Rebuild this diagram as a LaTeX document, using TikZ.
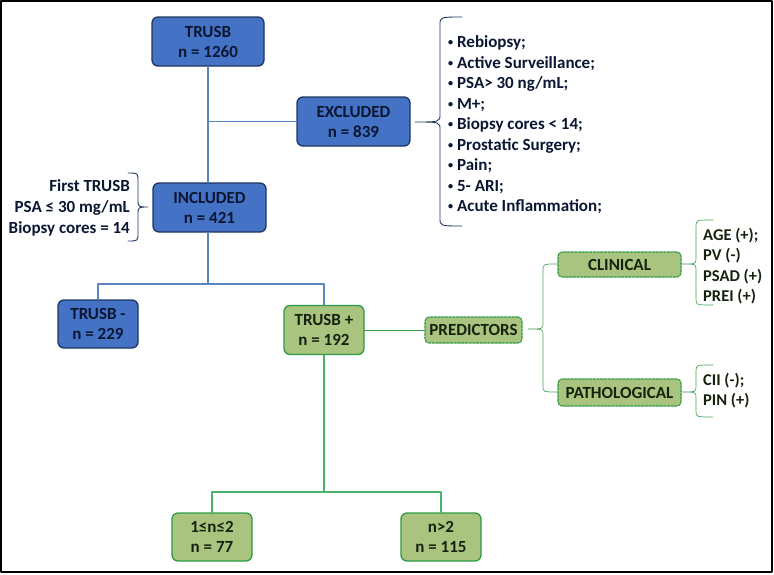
\documentclass[tikz,border=0pt]{standalone}
\usepackage{fontspec}
\setmainfont{Carlito}
\definecolor{boxblue}{HTML}{4472C4}
\definecolor{edgeblue}{HTML}{1F3560}
\definecolor{textblue}{HTML}{0B1633}
\definecolor{lineblue}{HTML}{5B84C4}
\definecolor{boxgreen}{HTML}{A9C47F}
\definecolor{edgegreen}{HTML}{2F9A45}
\definecolor{textgreen}{HTML}{17220E}
\definecolor{linegreen}{HTML}{4DB36A}
\newcommand{\itemdot}{\raisebox{0.12em}{\scalebox{0.6}{•}}\ }
\begin{document}
\begin{tikzpicture}[x=1pt,y=-1pt, font=\bfseries, line join=round, line cap=round]
	\tikzset{bluebox/.style={draw=edgeblue, line width=1.3pt, fill=boxblue, rounded corners=6pt,
			text=textblue, align=center, font=\fontsize{17}{20}\selectfont\bfseries, inner sep=0pt},
		greenbox/.style={draw=edgegreen, line width=1.3pt, fill=boxgreen, rounded corners=6pt,
			text=textgreen, align=center, font=\fontsize{17}{20}\selectfont\bfseries, inner sep=0pt},
		dashbox/.style={draw=edgegreen, line width=1.1pt, dash pattern=on 2.5pt off 1.2pt, fill=boxgreen,
			rounded corners=4pt, text=textgreen, font=\fontsize{17}{19}\selectfont\bfseries, inner sep=0pt},
		blueline/.style={draw=lineblue, line width=1.1pt},
		greenline/.style={draw=linegreen, line width=1.1pt},
		dotline/.style={draw=edgegreen, line width=0.7pt, dash pattern=on 1.2pt off 0.8pt},
		bracket/.style={line width=0.9pt},
		listtext/.style={align=left, inner sep=0pt, text=textblue, font=\fontsize{17}{20.5}\selectfont\bfseries}}
	\def\brr{8}
	% brace: end x, spine x, tip x, top y, tip y, bottom y
	\newcommand{\bracketpath}[7][]{%
		\draw[bracket,#1] (#2,#5) .. controls (#3,#5) .. ({#3},{#5+\brr}) -- ({#3},{#6-\brr})
		.. controls (#3,#6) .. (#4,#6) .. controls (#3,#6) .. ({#3},{#6+\brr}) -- ({#3},{#7-\brr})
		.. controls (#3,#7) .. (#2,#7);}
	\useasboundingbox (0,0) rectangle (774,574);
	\draw[line width=2pt] (1,1) rectangle (772,572);
	% main boxes
	\node[bluebox, minimum width=112pt, minimum height=49pt] (trusb) at (208,41.5) {TRUSB\\n = 1260};
	\node[bluebox, minimum width=113pt, minimum height=49pt] (excl) at (353.5,121.5) {EXCLUDED\\n = 839};
	\node[bluebox, minimum width=113pt, minimum height=49pt] (incl) at (209.5,207.5) {INCLUDED\\n = 421};
	\node[bluebox, minimum width=80pt, minimum height=48pt] (neg) at (98,324) {TRUSB -\\n = 229};
	\node[greenbox, minimum width=80pt, minimum height=49pt] (pos) at (324,330) {TRUSB +\\n = 192};
	\node[greenbox, minimum width=80pt, minimum height=48pt] (low) at (212,537) {1≤n≤2\\n = 77};
	\node[greenbox, minimum width=80pt, minimum height=48pt] (high) at (441,537) {n>2\\n = 115};
	\node[dashbox, minimum width=97pt, minimum height=26pt] (pred) at (473.5,330) {PREDICTORS};
	\node[dashbox, minimum width=123pt, minimum height=25pt] (clin) at (619.5,264.5) {CLINICAL};
	\node[dashbox, minimum width=123pt, minimum height=27pt] (patho) at (619.5,392.5) {PATHOLOGICAL};
	% texts
	\node[listtext, anchor=west] (exlist) at (448,125) {\itemdot Rebiopsy;\\\itemdot Active Surveillance;\\
		\itemdot PSA> 30 ng/mL;\\\itemdot M+;\\\itemdot Biopsy cores < 14;\\\itemdot Prostatic Surgery;\\
		\itemdot Pain;\\\itemdot 5- ARI;\\\itemdot Acute Inflammation;};
	\node[listtext, align=right, anchor=east, font=\fontsize{17}{21}\selectfont\bfseries] (crit) at (130,207.5)
		{First TRUSB\\PSA ≤ 30 mg/mL\\Biopsy cores = 14};
	\node[listtext, anchor=west, text=textgreen, font=\fontsize{16.5}{20.5}\selectfont\bfseries] (clinlist) at (703,266)
		{AGE (+);\\PV (-)\\PSAD (+)\\PREI (+)};
	\node[listtext, anchor=west, text=textgreen, font=\fontsize{16.5}{20}\selectfont\bfseries] (patholist) at (703,391)
		{CII (-);\\PIN (+)};
	% connectors
	\coordinate (forka) at (208,284);
	\coordinate (forkb) at (324,492);
	\draw[blueline] (trusb.south) -- (trusb.south |- incl.north);
	\draw[blueline] (trusb.south |- excl.west) -- (excl.west);
	\draw[blueline] (incl.south -| forka) -- (forka);
	\draw[blueline] (neg.north) |- (forka) -| (pos.north);
	\draw[greenline] (pos.south) -- (forkb);
	\draw[greenline] (low.north) |- (forkb) -| (high.north);
	\draw[dotline] (pos.east) -- (pred.west);
	% braces
	\bracketpath[draw=edgeblue]{462}{440}{415}{17}{122}{226}
	\bracketpath[draw=edgeblue]{128}{138}{148}{173}{207}{241}
	\def\brr{6}
	\bracketpath[dotline]{558}{543}{528}{264}{329}{392}
	\bracketpath[dotline]{713}{696}{682}{220}{264}{305}
	\bracketpath[dotline]{713}{696}{682}{365}{392}{417}
\end{tikzpicture}
\end{document}
